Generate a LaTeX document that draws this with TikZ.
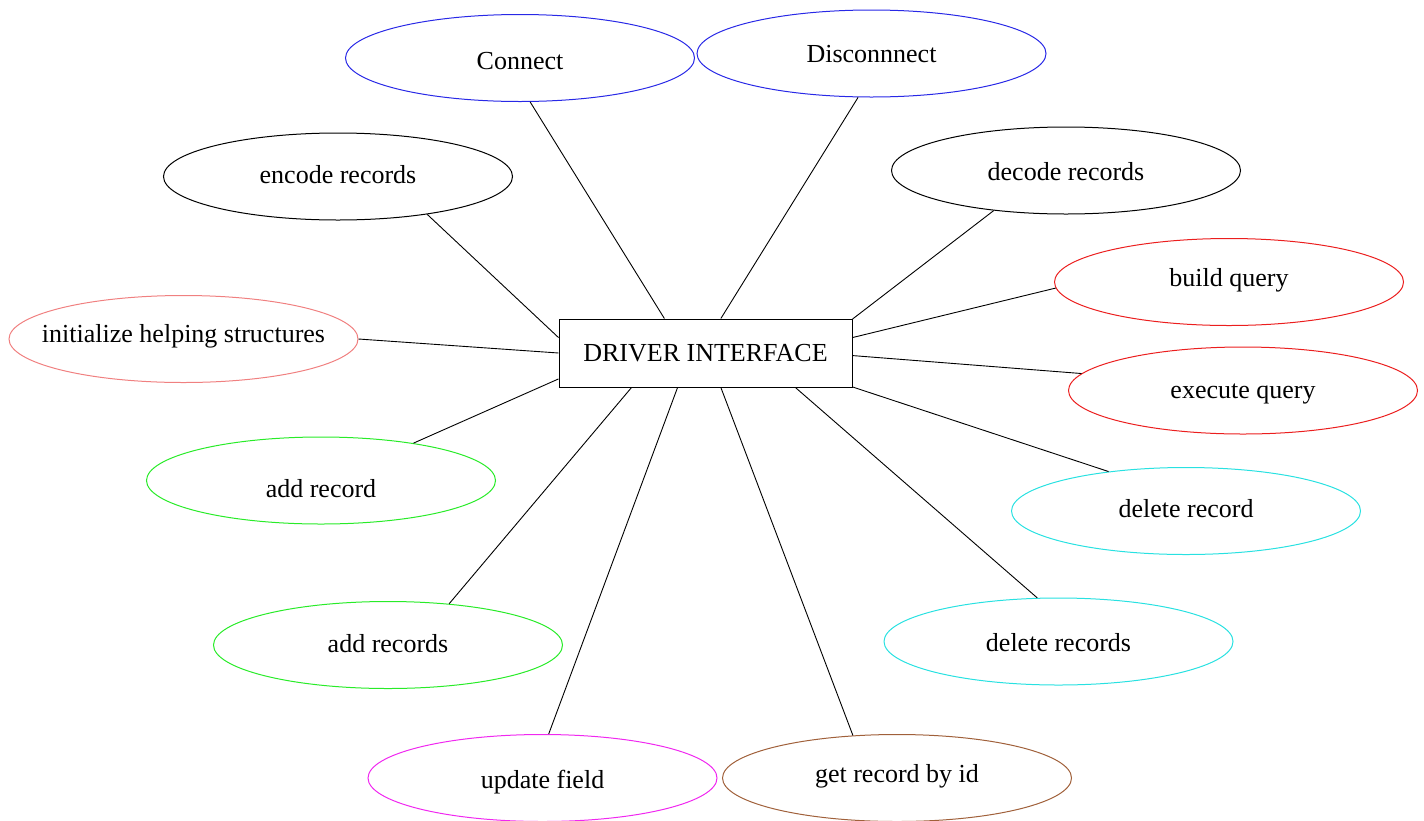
\documentclass[tikz,border=0pt]{standalone}
\usepackage{fontspec}
\setmainfont{Liberation Serif}
\usetikzlibrary{shapes.geometric}

\definecolor{cBlue}{RGB}{40,40,230}
\definecolor{cRed}{RGB}{235,30,30}
\definecolor{cPink}{RGB}{240,128,128}
\definecolor{cGreen}{RGB}{40,235,40}
\definecolor{cCyan}{RGB}{40,225,225}
\definecolor{cMagenta}{RGB}{240,40,240}
\definecolor{cBrown}{RGB}{160,96,58}

\tikzset{
  op/.style={ellipse, draw, line width=1pt, minimum width=349pt, minimum height=87pt,
    inner xsep=-70pt, inner ysep=0pt, text height=19pt, text depth=6pt,
    font=\fontsize{26}{30}\selectfont},
  % a taller text box lowers the label inside its ellipse
  drop/.style={text height=#1},
  hub/.style={rectangle, draw, line width=1pt, minimum width=293pt, minimum height=68pt,
    inner sep=0pt, font=\fontsize{26}{30}\selectfont},
  link/.style={draw, line width=0.9pt, black}
}

\begin{document}
\begin{tikzpicture}[x=1pt, y=-1pt]
  \useasboundingbox (0,0) rectangle (1424,820);

  % central interface box
  \node[hub] (drv) at (705.5,353) {DRIVER INTERFACE};

  % operations around it
  \node[op, draw=cBlue, drop=28pt]    (con)  at (520,58)       {Connect};
  \node[op, draw=cBlue, drop=24pt]    (dis)  at (871.5,53.5)   {Disconnnect};
  \node[op]                           (enc)  at (338,176.5)    {encode records};
  \node[op, drop=26pt]                (dec)  at (1066,170.5)   {decode records};
  \node[op, draw=cRed, drop=14pt]     (bq)   at (1229,282)     {build query};
  \node[op, draw=cRed, drop=22pt]     (eq)   at (1243,390.5)   {execute query};
  \node[op, draw=cPink, drop=12pt]    (init) at (183.5,339)    {initialize helping structures};
  \node[op, draw=cGreen, drop=40pt]   (ar)   at (321,480.5)    {add record};
  \node[op, draw=cGreen, drop=20pt]   (ars)  at (388,645)      {add records};
  \node[op, draw=cCyan]               (dr)   at (1186,511)     {delete record};
  \node[op, draw=cCyan, drop=26pt]    (drs)  at (1058.5,641.5) {delete records};
  \node[op, draw=cMagenta, drop=26pt] (uf)   at (542.5,778)    {update field};
  \node[op, draw=cBrown, drop=14pt]   (gr)   at (897,778)      {get record by id};

  % connectors from the interface to each operation
  \draw[link] (drv.140)   -- (con.-77.2);
  \draw[link] (drv.66.9)  -- (dis.-107);
  \draw[link] (drv.174.9) -- (enc.-23.3);
  \draw[link] (drv.13.2)  -- (dec.-151.8);
  \draw[link] (drv.6.3)   -- (bq.182);
  \draw[link] (drv.-1.2)  -- (eq.174.9);
  \draw[link] (drv.180.4) -- (init.0);
  \draw[link] (drv.190.9) -- (ar.22.4);
  \draw[link] (drv.205.4) -- (ars.34.5);
  \draw[link] (drv.-13.5) -- (dr.153.1);
  \draw[link] (drv.-21.9) -- (drs.116.3);
  \draw[link] (drv.231)   -- (uf.82.7);
  \draw[link] (drv.-66.9) -- (gr.136.9);
\end{tikzpicture}
\end{document}
